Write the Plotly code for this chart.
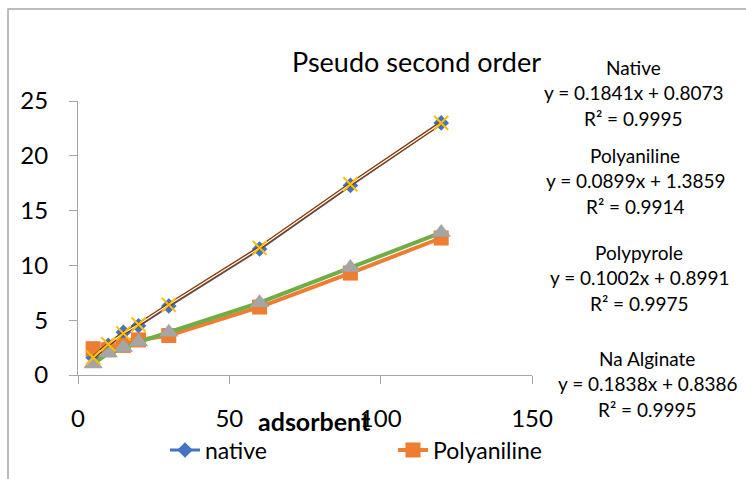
import plotly.graph_objects as go

# ---- data ----
x_vals = [5, 10, 15, 20, 30, 60, 90, 120]
native = [1.6, 2.7, 3.9, 4.5, 6.3, 11.5, 17.3, 23.0]
polyaniline = [2.4, 2.3, 2.7, 3.2, 3.6, 6.2, 9.3, 12.5]
polypyrole = [1.0, 2.0, 2.5, 3.0, 3.9, 6.6, 9.8, 13.0]
na_alginate = [1.6, 2.8, 3.8, 4.6, 6.4, 11.6, 17.4, 23.0]

x_ticks = [0, 50, 100, 150]
y_ticks = [0, 5, 10, 15, 20, 25]

title_text = "Pseudo second order"
x_title = "adsorbent"
eq_blocks = [
    ("Native", "y = 0.1841x + 0.8073", "R² = 0.9995"),
    ("Polyaniline", "y = 0.0899x + 1.3859", "R² = 0.9914"),
    ("Polypyrole", "y = 0.1002x + 0.8991", "R² = 0.9975"),
    ("Na Alginate", "y = 0.1838x + 0.8386", "R² = 0.9995"),
]

# ---- layout geometry (pixels) ----
W, H = 746, 479
L, R_, T, B = 78, 532, 101, 375
PW, PH = R_ - L, B - T
FONT = "Lato"


def px(xp):
    return (xp - L) / PW


def py(yp):
    return (B - yp) / PH


fig = go.Figure()

fig.add_trace(go.Scatter(
    x=x_vals, y=native, name="native", mode="lines+markers",
    line=dict(color="#4472C4", width=3),
    marker=dict(symbol="diamond", size=12, color="#4472C4"),
    legend="legend",
))
fig.add_trace(go.Scatter(
    x=x_vals, y=polyaniline, name="Polyaniline", mode="lines+markers",
    line=dict(color="#ED7D31", width=4),
    marker=dict(symbol="square", size=15, color="#ED7D31"),
    legend="legend2",
))
fig.add_trace(go.Scatter(
    x=x_vals, y=polypyrole, name="Polypyrole", mode="lines+markers",
    line=dict(color="#70AD47", width=4),
    marker=dict(symbol="triangle-up", size=17, color="#A5A5A5"),
    showlegend=False,
))
fig.add_trace(go.Scatter(
    x=x_vals, y=na_alginate, name="Na Alginate", mode="lines",
    line=dict(color="#843C0C", width=4),
    showlegend=False,
))
fig.add_trace(go.Scatter(
    x=x_vals, y=na_alginate, name="Na Alginate", mode="lines+markers",
    line=dict(color="#FFFFFF", width=1.2),
    marker=dict(symbol="x-thin", size=14, line=dict(color="#FFC000", width=2)),
    showlegend=False,
))

annotations = [
    dict(text=title_text, x=px(416), y=py(62), xref="paper", yref="paper",
         showarrow=False, font=dict(size=27, color="#000000", family=FONT),
         xanchor="center", yanchor="middle"),
    dict(text="<b>" + x_title + "</b>", x=px(314), y=py(421), xref="paper", yref="paper",
         showarrow=False, font=dict(size=25, color="#000000", family=FONT),
         xanchor="center", yanchor="middle"),
]

block_pos = [(633, 67), (635, 155), (639, 252), (647, 358)]
for (name, eq, r2), (cx, cy) in zip(eq_blocks, block_pos):
    for i, line in enumerate([name, eq, r2]):
        annotations.append(dict(
            text=line, x=px(cx), y=py(cy + i * 25.8), xref="paper", yref="paper",
            showarrow=False, font=dict(size=19, color="#000000", family=FONT),
            xanchor="center", yanchor="middle"))

legend_common = dict(orientation="h", yanchor="middle", xanchor="left",
                     font=dict(size=23, family=FONT, color="#000000"),
                     bgcolor="rgba(0,0,0,0)", borderwidth=0)

fig.update_layout(
    width=W, height=H,
    margin=dict(l=L, r=W - R_, t=T, b=H - B, pad=0, autoexpand=False),
    paper_bgcolor="#FFFFFF", plot_bgcolor="#FFFFFF",
    font=dict(family=FONT, color="#000000"),
    showlegend=True,
    legend=dict(x=px(165), y=py(450), **legend_common),
    legend2=dict(x=px(393), y=py(450), **legend_common),
    annotations=annotations,
    shapes=[dict(type="rect", xref="paper", yref="paper",
                 x0=px(8), x1=px(780), y0=py(520), y1=py(9),
                 line=dict(color="#A6A6A6", width=1.5), fillcolor="rgba(0,0,0,0)",
                 layer="below")],
)

fig.update_xaxes(range=[0, 150], tickvals=x_ticks, showgrid=False, zeroline=False,
                 showline=True, linecolor="#A6A6A6", linewidth=1.2,
                 ticks="outside", ticklen=8, tickcolor="#A6A6A6", tickwidth=1.2,
                 ticklabelstandoff=14,
                 tickfont=dict(size=24, family=FONT, color="#000000"))
fig.update_yaxes(range=[0, 25], tickvals=y_ticks, showgrid=False, zeroline=False,
                 showline=True, linecolor="#A6A6A6", linewidth=1.2,
                 ticks="outside", ticklen=8, tickcolor="#A6A6A6", tickwidth=1.2,
                 ticklabelstandoff=16,
                 tickfont=dict(size=24, family=FONT, color="#000000"))

fig.write_html("out.html",
               config={"displayModeBar": False},
               post_script="document.body.style.margin='0px';document.body.style.overflow='hidden';")
